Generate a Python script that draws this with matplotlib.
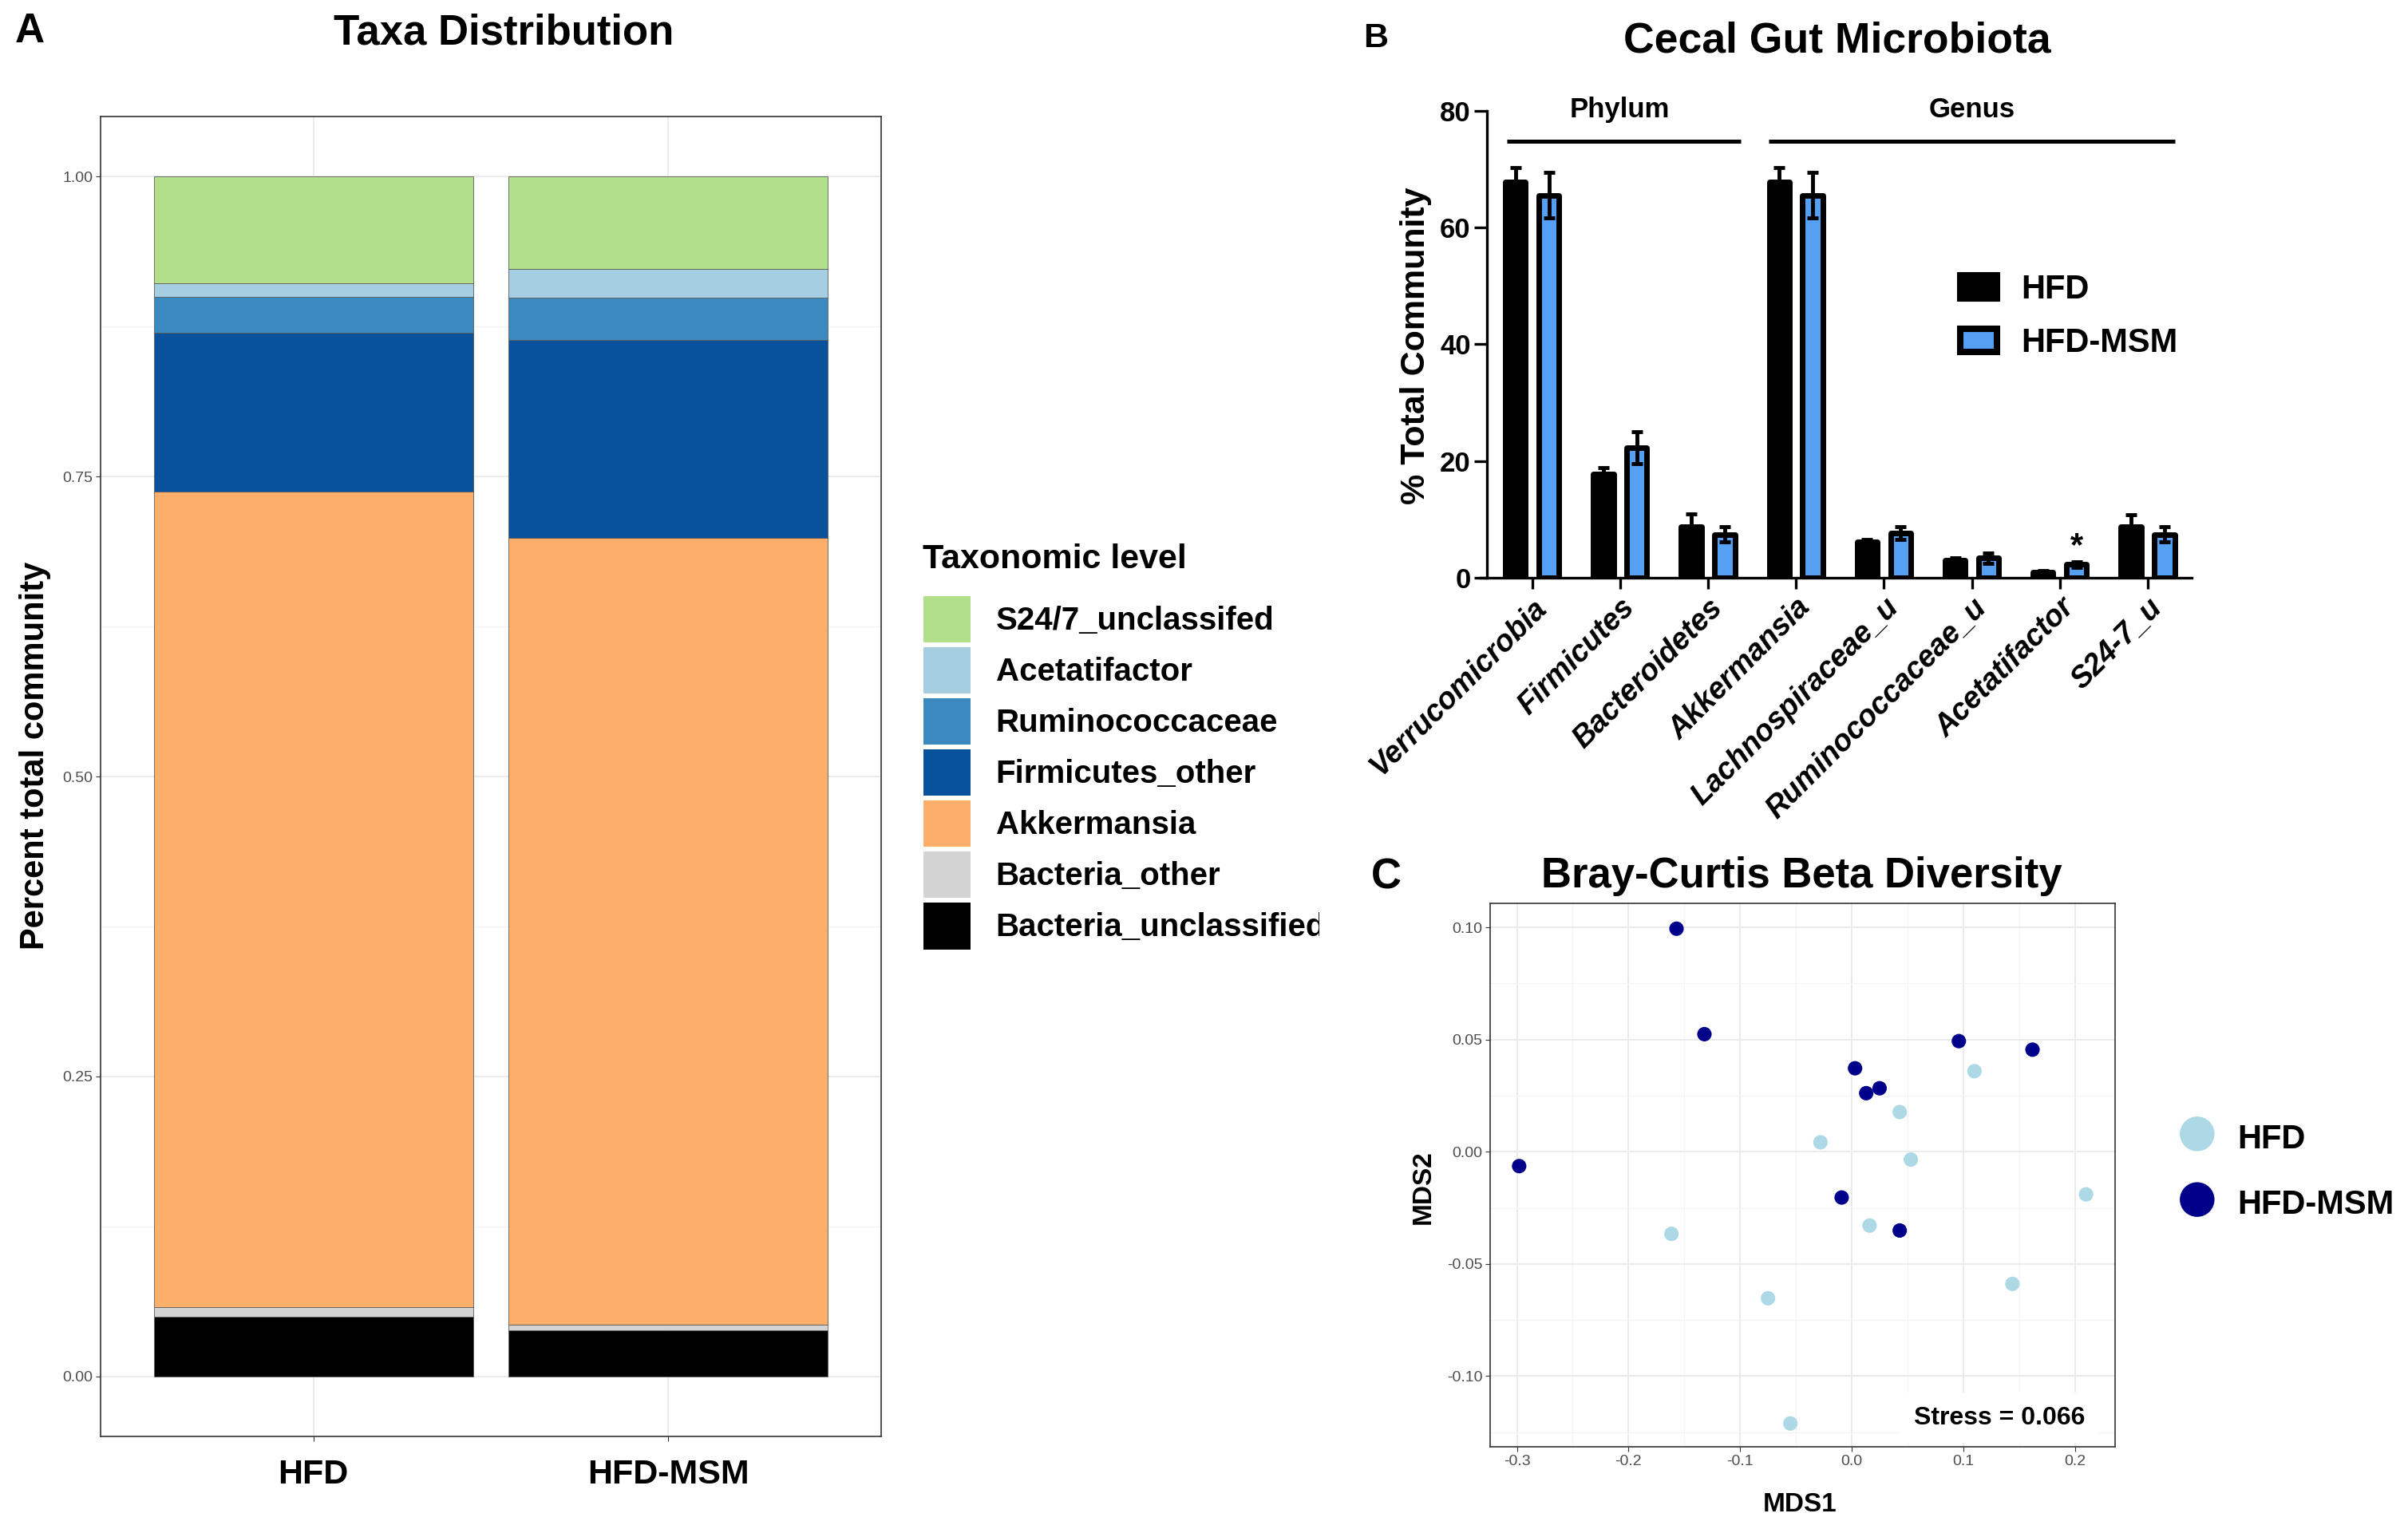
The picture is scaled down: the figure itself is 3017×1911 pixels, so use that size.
import numpy as np
import matplotlib
matplotlib.use('Agg')
import matplotlib.pyplot as plt
from matplotlib.patches import Patch
from matplotlib.transforms import Bbox

# ---- Panel A: taxa distribution (fractions, bottom to top)
groups_a = ['HFD', 'HFD-MSM']
taxa = ['Bacteria_unclassified', 'Bacteria_other', 'Akkermansia', 'Firmicutes_other',
        'Ruminococcaceae', 'Acetatifactor', 'S24/7_unclassifed']
taxa_colors = ['#000000', '#D3D3D3', '#FDAE6B', '#08519C', '#3A89BF', '#A6CEE3', '#B2DF8A']
hfd_frac = [0.050, 0.008, 0.6795, 0.1325, 0.030, 0.011, 0.089]
msm_frac = [0.0386, 0.0042, 0.656, 0.165, 0.035, 0.024, 0.0772]

# ---- Panel B: % total community, mean and SEM
cats_b = ['Verrucomicrobia', 'Firmicutes', 'Bacteroidetes', 'Akkermansia',
          'Lachnospiraceae_u', 'Ruminococcaceae_u', 'Acetatifactor', 'S24-7_u']
hfd_mean = [67.8, 17.8, 8.7, 67.8, 6.1, 3.0, 1.0, 8.7]
hfd_sem = [2.5, 1.0, 2.2, 2.5, 0.5, 0.4, 0.2, 2.1]
msm_mean = [65.5, 22.3, 7.4, 65.5, 7.6, 3.4, 2.3, 7.4]
msm_sem = [3.9, 2.7, 1.3, 3.9, 1.1, 0.9, 0.5, 1.3]
sig_index = 6  # Acetatifactor marked with *

# ---- Panel C: NMDS coordinates
hfd_x = [0.110, 0.043, -0.028, 0.053, 0.210, 0.016, -0.1615, -0.075, 0.144, -0.055]
hfd_y = [0.0359, 0.0177, 0.0042, -0.0035, -0.0190, -0.0329, -0.0366, -0.0653, -0.0589, -0.1211]
msm_x = [-0.157, -0.132, -0.298, 0.003, 0.013, 0.025, 0.096, 0.162, -0.009, 0.043]
msm_y = [0.0994, 0.0524, -0.0064, 0.0372, 0.0261, 0.0283, 0.0493, 0.0455, -0.0204, -0.0351]
stress = 0.066

W, H = 3017, 1911
plt.rcParams['axes.unicode_minus'] = False
plt.rcParams['font.family'] = ['Liberation Sans', 'DejaVu Sans']


def px_box(left, top, right, bottom):
    return [left / W, 1 - bottom / H, (right - left) / W, (bottom - top) / H]


def fx(x):
    return x / W


def fy(y):
    return 1 - y / H


fig = plt.figure(figsize=(W / 100, H / 100), dpi=100)

# ================= Panel A =================
ax_a = fig.add_axes(px_box(126, 146, 1104, 1800))
xa = np.arange(1, len(groups_a) + 1)
bottom = np.zeros(len(groups_a))
for name, color, h, m in zip(taxa, taxa_colors, hfd_frac, msm_frac):
    vals = np.array([h, m])
    ax_a.bar(xa, vals, width=0.9, bottom=bottom, color=color, edgecolor='#5c5c5c',
             linewidth=0.6, label=name, zorder=2)
    bottom += vals

ax_a.set_xlim(0.4, 2.6)
ax_a.set_ylim(-0.05, 1.05)
ax_a.set_xticks(xa, groups_a, fontsize=31, fontweight='bold')
ax_a.set_yticks([0, 0.25, 0.5, 0.75, 1.0], ['0.00', '0.25', '0.50', '0.75', '1.00'],
                fontsize=14, color='#4D4D4D')
ax_a.set_yticks([0.125, 0.375, 0.625, 0.875], minor=True)
ax_a.tick_params(axis='y', which='minor', length=0)
ax_a.tick_params(axis='y', which='major', length=4, color='#333333', pad=3)
ax_a.tick_params(axis='x', length=4, color='#333333', pad=16)
ax_a.grid(which='major', color='#EBEBEB', lw=1.4)
ax_a.grid(which='minor', axis='y', color='#F4F4F4', lw=0.9)
ax_a.set_axisbelow(True)
for sp in ax_a.spines.values():
    sp.set_color('#333333')
    sp.set_linewidth(1.2)

fig.text(fx(19), fy(53), 'A', fontsize=37, fontweight='bold', va='baseline')
fig.text(fx(631), fy(55), 'Taxa Distribution', fontsize=38, fontweight='bold',
         ha='center', va='baseline')
fig.text(fx(55), fy(947), 'Percent total community', rotation=90, rotation_mode='anchor',
         ha='center', va='baseline', fontsize=30, fontweight='bold')

fig.text(fx(1156), fy(712), 'Taxonomic level', fontsize=31, fontweight='bold', va='baseline')
handles_a, labels_a = ax_a.get_legend_handles_labels()
leg_a = fig.legend(handles_a[::-1], labels_a[::-1], loc='upper left',
                   bbox_to_anchor=(fx(1157), fy(747)), frameon=False, borderpad=0,
                   borderaxespad=0, prop={'weight': 'bold', 'size': 29},
                   handlelength=1.47, handleheight=1.84,
                   labelspacing=0.15, handletextpad=0.78)
for patch in leg_a.get_patches():
    patch.set_edgecolor('none')
clip = Bbox.from_extents(0, 0, 1653, H)
for t in leg_a.get_texts():
    t.set_clip_box(clip)
    t.set_clip_on(True)

# ================= Panel B =================
ax_b = fig.add_axes(px_box(1854.6, 138.7, 2746, 724))
xb = np.arange(len(cats_b))
off, bw = 0.19, 0.23
ax_b.bar(xb - off, hfd_mean, bw, color='black', edgecolor='black', linewidth=5,
         joinstyle='round', label='HFD', zorder=2)
ax_b.bar(xb + off, msm_mean, bw, color='#55A0F2', edgecolor='black', linewidth=5,
         joinstyle='round', label='HFD-MSM', zorder=2)
ax_b.errorbar(xb - off, hfd_mean, yerr=hfd_sem, fmt='none', ecolor='black',
              elinewidth=3.5, capsize=5, capthick=3.5, zorder=3)
ax_b.errorbar(xb + off, msm_mean, yerr=msm_sem, fmt='none', ecolor='black',
              elinewidth=3.5, capsize=5, capthick=3.5, zorder=3)

ax_b.set_xlim(-0.59, 7.5)
ax_b.set_ylim(0, 80)
ax_b.spines['top'].set_visible(False)
ax_b.spines['right'].set_visible(False)
ax_b.spines['left'].set_position(('data', -0.51))
for sp in ('left', 'bottom'):
    ax_b.spines[sp].set_linewidth(2.4)
ax_b.set_yticks(np.arange(0, 81, 20), [str(v) for v in range(0, 81, 20)],
                fontsize=25, fontweight='bold')
ax_b.tick_params(axis='y', length=11.5, width=2.4, pad=3.5)
ax_b.set_xticks(xb, cats_b, fontsize=27, fontweight='bold', fontstyle='italic',
                rotation=45, ha='right', va='top', rotation_mode='anchor')
ax_b.tick_params(axis='x', length=10, width=2.4, pad=4)

# group brackets
for label, first, last, pad_l, pad_r in [('Phylum', 0, 2, 0.29, 0.37), ('Genus', 3, 7, 0.31, 0.31)]:
    x0, x1 = xb[first] - pad_l, xb[last] + pad_r
    ax_b.plot([x0, x1], [74.8, 74.8], color='black', lw=3.6, solid_capstyle='butt',
              clip_on=False)
    ax_b.text((xb[first] + xb[last]) / 2, 78.8, label, ha='center', va='baseline',
              fontsize=25, fontweight='bold', clip_on=False)

ax_b.text(xb[sig_index] + off, msm_mean[sig_index] + msm_sem[sig_index] + 1.0, '*',
          ha='center', va='baseline', fontsize=30, fontweight='bold')

fig.text(fx(1708), fy(59), 'B', fontsize=31, fontweight='bold', va='baseline')
fig.text(fx(2302), fy(65), 'Cecal Gut Microbiota', fontsize=38.5, fontweight='bold',
         ha='center', va='baseline')
fig.text(fx(1785), fy(433), '% Total Community', rotation=90, rotation_mode='anchor',
         ha='center', va='baseline', fontsize=31, fontweight='bold')

handles_b = [Patch(facecolor='black', edgecolor='black', linewidth=5.8, joinstyle='round'),
             Patch(facecolor='#55A0F2', edgecolor='black', linewidth=5.8, joinstyle='round')]
ax_b.legend(handles_b, ['HFD', 'HFD-MSM'], loc='upper left',
            bbox_to_anchor=(fx(2456), fy(343)), bbox_transform=fig.transFigure,
            frameon=False, borderpad=0, borderaxespad=0,
            prop={'weight': 'bold', 'size': 30}, handlelength=1.1, handleheight=0.72,
            handletextpad=0.72, labelspacing=0.65)

# ================= Panel C =================
ax_c = fig.add_axes(px_box(1867, 1132, 2650, 1813))
ax_c.scatter(hfd_x, hfd_y, s=170, color='#ADD8E6', edgecolors='none', label='HFD', zorder=3)
ax_c.scatter(msm_x, msm_y, s=170, color='#00008B', edgecolors='none', label='HFD-MSM', zorder=3)
ax_c.set_xlim(-0.324, 0.236)
ax_c.set_ylim(-0.1315, 0.1107)
xt = [-0.3, -0.2, -0.1, 0.0, 0.1, 0.2]
yt = [-0.10, -0.05, 0.0, 0.05, 0.10]
ax_c.set_xticks(xt, [f'{v:.1f}' for v in xt], fontsize=14, color='#4D4D4D')
ax_c.set_yticks(yt, [f'{v:.2f}' for v in yt], fontsize=14, color='#4D4D4D')
ax_c.set_xticks(np.arange(-0.25, 0.25, 0.1), minor=True)
ax_c.set_yticks([-0.125, -0.075, -0.025, 0.025, 0.075], minor=True)
ax_c.tick_params(which='minor', length=0)
ax_c.tick_params(which='major', length=4, color='#333333', pad=3)
ax_c.grid(which='major', color='#EBEBEB', lw=1.4)
ax_c.grid(which='minor', color='#F4F4F4', lw=0.9)
ax_c.set_axisbelow(True)
for sp in ax_c.spines.values():
    sp.set_color('#333333')
    sp.set_linewidth(1.2)

ax_c.text(0.209, -0.1215, f'Stress = {stress:.3f}', ha='right', va='baseline',
          fontsize=23, fontweight='bold', zorder=4,
          bbox=dict(facecolor='white', edgecolor='none', pad=12))

fig.text(fx(1718), fy(1113), 'C', fontsize=38, fontweight='bold', va='baseline')
fig.text(fx(2257), fy(1112), 'Bray-Curtis Beta Diversity', fontsize=38, fontweight='bold',
         ha='center', va='baseline')
fig.text(fx(2255), fy(1894), 'MDS1', fontsize=24, fontweight='bold', ha='center', va='baseline')
fig.text(fx(1792), fy(1488), 'MDS2', rotation=90, rotation_mode='anchor', ha='center',
         va='baseline', fontsize=24, fontweight='bold')

ax_c.legend(loc='upper left', bbox_to_anchor=(fx(2732), fy(1401)),
            bbox_transform=fig.transFigure, frameon=False, borderpad=0, borderaxespad=0,
            prop={'weight': 'bold', 'size': 30}, markerscale=2.4, handlelength=1.0,
            handleheight=1.4, handletextpad=0.7, labelspacing=0.82, scatterpoints=1)

fig.savefig('out.png', dpi=100)
